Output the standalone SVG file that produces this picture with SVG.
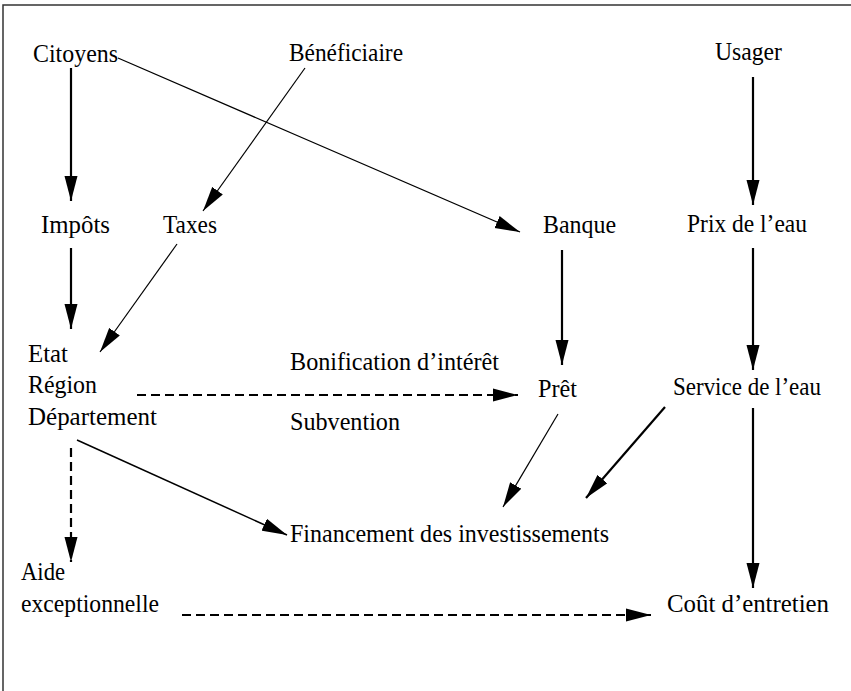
<svg xmlns="http://www.w3.org/2000/svg" width="851" height="691" viewBox="0 0 851 691">
<defs>
<marker id="ah" markerUnits="userSpaceOnUse" markerWidth="26" markerHeight="14" refX="25" refY="6.5" orient="auto" viewBox="0 0 26 13">
<path d="M0,0 L25,6.5 L0,13 Z" fill="#000"/>
</marker>
<style>
text{font-family:"Liberation Serif","Times New Roman",serif;font-size:25px;fill:#000}
.c{fill:none;stroke:#000;marker-end:url(#ah)}
.k{stroke-width:2.2}
.t{stroke-width:1.2}
.d{stroke-width:2.2;stroke-dasharray:9 5}
.frame{fill:none;stroke:#333;stroke-width:1.5}
</style>
</defs>
<rect width="851" height="691" fill="#fff"/>
<path class="frame" d="M3,691 L3,5 L851,5"/>
<g id="connectors">
<line class="c k" x1="71" y1="68" x2="71" y2="201"/>
<line class="c t" x1="305" y1="68" x2="203" y2="211"/>
<line class="c t" x1="118" y1="58" x2="520" y2="232"/>
<line class="c k" x1="753" y1="77" x2="753" y2="205"/>
<line class="c k" x1="71" y1="248" x2="71" y2="329"/>
<line class="c t" x1="177" y1="244" x2="100" y2="352"/>
<line class="c k" x1="562" y1="250" x2="562" y2="365"/>
<line class="c k" x1="753" y1="248" x2="753" y2="370"/>
<line class="c d" x1="137" y1="395" x2="518" y2="395"/>
<line class="c t" x1="558" y1="414" x2="503" y2="507"/>
<line class="c k" x1="665" y1="407" x2="586" y2="498"/>
<line class="c k" x1="753" y1="408" x2="753" y2="588"/>
<line class="c d" x1="71" y1="448" x2="71" y2="562"/>
<line class="c t" x1="77" y1="440" x2="287" y2="535" style="stroke-width:1.5"/>
<line class="c d" x1="182" y1="615" x2="651" y2="615"/>
</g>
<g id="citoyens"><text x="33" y="62" textLength="85" lengthAdjust="spacingAndGlyphs">Citoyens</text></g>
<g id="beneficiaire"><text x="289" y="61" textLength="114" lengthAdjust="spacingAndGlyphs">Bénéficiaire</text></g>
<g id="usager"><text x="715" y="60" textLength="67" lengthAdjust="spacingAndGlyphs">Usager</text></g>
<g id="impots"><text x="41" y="233" textLength="69" lengthAdjust="spacingAndGlyphs">Impôts</text></g>
<g id="taxes"><text x="163" y="233" textLength="54" lengthAdjust="spacingAndGlyphs">Taxes</text></g>
<g id="banque"><text x="543" y="233" textLength="73" lengthAdjust="spacingAndGlyphs">Banque</text></g>
<g id="prix"><text x="687" y="232" textLength="120" lengthAdjust="spacingAndGlyphs">Prix de l’eau</text></g>
<g id="etat">
<text x="28" y="362" textLength="40" lengthAdjust="spacingAndGlyphs">Etat</text>
<text x="28" y="393" textLength="69" lengthAdjust="spacingAndGlyphs">Région</text>
<text x="28" y="425" textLength="129" lengthAdjust="spacingAndGlyphs">Département</text>
</g>
<g id="bonification"><text x="290" y="370" textLength="209" lengthAdjust="spacingAndGlyphs">Bonification d’intérêt</text></g>
<g id="subvention"><text x="290" y="430" textLength="110" lengthAdjust="spacingAndGlyphs">Subvention</text></g>
<g id="pret"><text x="538" y="397" textLength="39" lengthAdjust="spacingAndGlyphs">Prêt</text></g>
<g id="service"><text x="673" y="395" textLength="148" lengthAdjust="spacingAndGlyphs">Service de l’eau</text></g>
<g id="financement"><text x="290" y="542" textLength="319" lengthAdjust="spacingAndGlyphs">Financement des investissements</text></g>
<g id="aide">
<text x="21" y="580" textLength="44" lengthAdjust="spacingAndGlyphs">Aide</text>
<text x="21" y="612" textLength="138" lengthAdjust="spacingAndGlyphs">exceptionnelle</text>
</g>
<g id="cout"><text x="667" y="612" textLength="162" lengthAdjust="spacingAndGlyphs">Coût d’entretien</text></g>
</svg>
